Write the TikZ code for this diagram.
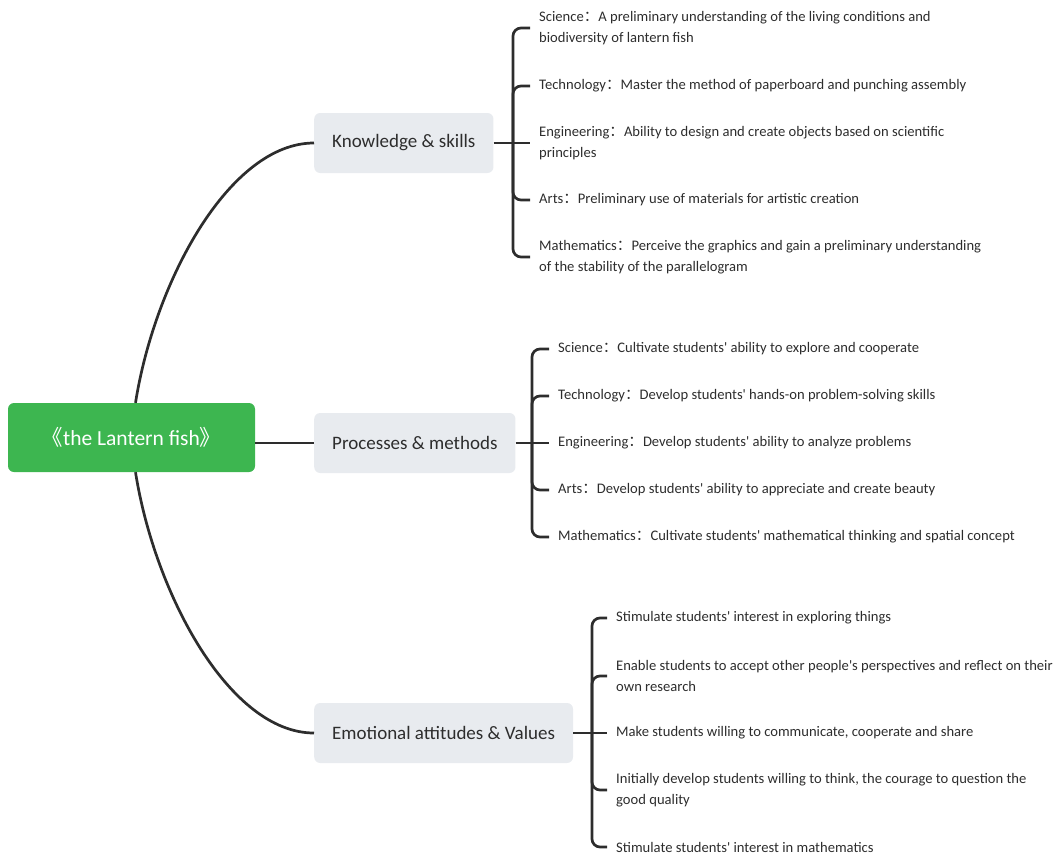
\documentclass[tikz,border=0pt]{standalone}
\usepackage{fontspec}
\setmainfont{Carlito}
\newfontfamily\cjk{Noto Sans CJK SC}
\definecolor{leaf}{RGB}{61,182,80}
\definecolor{boxgray}{RGB}{232,235,239}
\definecolor{ink}{RGB}{45,45,45}
\newcommand{\colonfw}{{\cjk ：}}
\newcommand{\sq}{\textquotesingle}
\tikzset{
  link/.style={draw=ink, line width=2.7pt, rounded corners=8pt},
  topic/.style={fill=boxgray, rounded corners=6pt, anchor=west, inner xsep=18pt,
    minimum height=60pt, text=ink, font=\fontsize{19}{23}\selectfont},
  item/.style={anchor=west, inner xsep=9pt, inner ysep=0pt, align=left, text=ink,
    font=\fontsize{14.6}{21}\selectfont},
}

\begin{document}
\begin{tikzpicture}[x=1pt,y=-1pt]
\useasboundingbox (0,0) rectangle (1057,860);

\node[fill=leaf, rounded corners=6pt, minimum width=247pt, minimum height=69pt, text=white,
  font=\fontsize{21.5}{26}\selectfont] (root) at (131.5,437.5) {{\cjk 《}the Lantern fish{\cjk 》}};

\node[topic] (know) at (314,143) {Knowledge \& skills};
\node[topic] (proc) at (314,443) {Processes \& methods};
\node[topic] (emot) at (314,733) {Emotional attitudes \& Values};

\node[item] (know-1) at (530,28)  {Science\colonfw A preliminary understanding of the living conditions and\\biodiversity of lantern fish};
\node[item] (know-2) at (530,86)  {Technology\colonfw Master the method of paperboard and punching assembly};
\node[item] (know-3) at (530,143) {Engineering\colonfw Ability to design and create objects based on scientific\\principles};
\node[item] (know-4) at (530,200) {Arts\colonfw Preliminary use of materials for artistic creation};
\node[item] (know-5) at (530,257) {Mathematics\colonfw Perceive the graphics and gain a preliminary understanding\\of the stability of the parallelogram};

\node[item] (proc-1) at (549,349) {Science\colonfw Cultivate students\sq{} ability to explore and cooperate};
\node[item] (proc-2) at (549,396) {Technology\colonfw Develop students\sq{} hands-on problem-solving skills};
\node[item] (proc-3) at (549,443) {Engineering\colonfw Develop students\sq{} ability to analyze problems};
\node[item] (proc-4) at (549,490) {Arts\colonfw Develop students\sq{} ability to appreciate and create beauty};
\node[item] (proc-5) at (549,537) {Mathematics\colonfw Cultivate students\sq{} mathematical thinking and spatial concept};

\node[item] (emot-1) at (607,618) {Stimulate students\sq{} interest in exploring things};
\node[item] (emot-2) at (607,676) {Enable students to accept other people\sq{}s perspectives and reflect on their\\own research};
\node[item] (emot-3) at (607,733) {Make students willing to communicate, cooperate and share};
\node[item] (emot-4) at (607,790) {Initially develop students willing to think, the courage to question the\\good quality};
\node[item] (emot-5) at (607,847) {Stimulate students\sq{} interest in mathematics};

\coordinate (know-hub) at (513,143);
\coordinate (proc-hub) at (532,443);
\coordinate (emot-hub) at (592,733);

% main branches
\draw[link] ([xshift=4pt]root.north) .. controls (155,280) and (230,143) .. (know);
\draw[link] (root.east |- proc) -- (proc);
\draw[link] ([xshift=4pt]root.south) .. controls (155,595) and (230,733) .. (emot);

% brackets
\draw[link] (know) -- (know-3);
\draw[link] (proc) -- (proc-3);
\draw[link] (emot) -- (emot-3);
\foreach \i in {1,2,4,5} {
  \draw[link] (know-hub) |- (know-\i);
  \draw[link] (proc-hub) |- (proc-\i);
  \draw[link] (emot-hub) |- (emot-\i);
}
\end{tikzpicture}
\end{document}
